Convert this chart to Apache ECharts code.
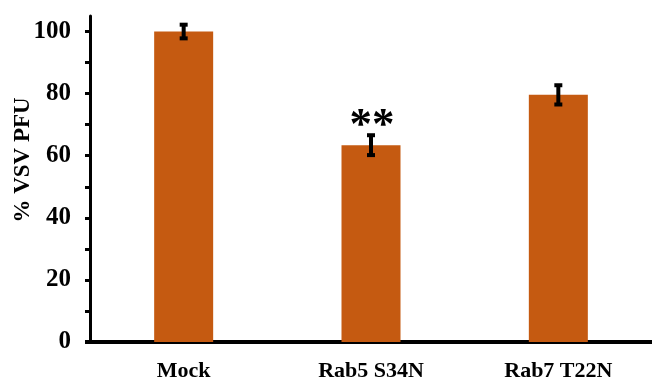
<!DOCTYPE html>
<html>
<head>
<meta charset="utf-8">
<script src="https://cdn.jsdelivr.net/npm/echarts@6/dist/echarts.min.js"></script>
<style>
  html, body { margin: 0; padding: 0; background: #fff; }
  #chart { width: 652px; height: 383px; }
</style>
</head>
<body>
<div id="chart"></div>
<script>
// Plaque assay: VSV PFU relative to mock-transfected cells
const categories = ['Mock', 'Rab5 S34N', 'Rab7 T22N'];
const pfuPercent = [100, 63.4, 79.6];
const pfuError = [2.2, 3.2, 3.1];
const significance = ['', '**', ''];
const yTickValues = [0, 10, 20, 30, 40, 50, 60, 70, 80, 90, 100];
const yLabelValues = [0, 20, 40, 60, 80, 100];

const FONT = '"Liberation Serif", "Times New Roman", serif';
const BAR_COLOR = '#C55A11';

const chart = echarts.init(document.getElementById('chart'), null, { renderer: 'canvas' });

const barData = pfuPercent.map((v, i) => {
  const item = { value: v };
  if (significance[i]) {
    item.label = {
      show: true,
      position: 'top',
      formatter: significance[i],
      distance: 0,
      fontFamily: FONT,
      fontWeight: 'bold',
      fontSize: 45,
      color: '#000',
      lineHeight: 45,
      offset: [1, 4]
    };
  }
  return item;
});

const errData = pfuPercent.map((v, i) => [i, v - pfuError[i], v + pfuError[i]]);

chart.setOption({
  animation: false,
  backgroundColor: '#fff',
  grid: { left: 90, top: 16, bottom: 41, width: 564 },
  xAxis: {
    type: 'category',
    data: categories,
    axisLine: { show: true, lineStyle: { color: '#000', width: 4 } },
    axisTick: { show: false },
    axisLabel: {
      color: '#000', fontFamily: FONT, fontWeight: 'bold', fontSize: 22, margin: 18
    }
  },
  yAxis: {
    type: 'value',
    min: 0,
    max: 105,
    interval: 10,
    splitLine: { show: false },
    axisLine: { show: true, lineStyle: { color: '#000', width: 3 } },
    axisTick: {
      show: true, inside: false, length: 5,
      customValues: yTickValues,
      lineStyle: { color: '#000', width: 3 }
    },
    axisLabel: {
      customValues: yLabelValues,
      color: '#000', fontFamily: FONT, fontWeight: 'bold', fontSize: 25, margin: 19
    }
  },
  graphic: [
    {
      type: 'text',
      x: 23,
      y: 160,
      rotation: Math.PI / 2,
      style: {
        text: '% VSV PFU',
        fontFamily: FONT,
        fontWeight: 'bold',
        fontSize: 23,
        fill: '#000',
        align: 'center',
        verticalAlign: 'middle'
      }
    },
    {
      // short stub of the baseline left of the value axis
      type: 'line',
      shape: { x1: 85, y1: 342, x2: 91, y2: 342 },
      style: { stroke: '#000', lineWidth: 4 },
      z: 10
    }
  ],
  series: [
    {
      type: 'bar',
      data: barData,
      barWidth: 59,
      itemStyle: { color: BAR_COLOR },
      z: 2
    },
    {
      type: 'custom',
      data: errData,
      z: 5,
      renderItem: function (params, api) {
        const x = api.coord([api.value(0), 0])[0];
        const lo = api.coord([api.value(0), api.value(1)])[1];
        const hi = api.coord([api.value(0), api.value(2)])[1];
        const half = 4;
        const stem = { stroke: '#000', lineWidth: 4 };
        const cap = { stroke: '#000', lineWidth: 4 };
        return {
          type: 'group',
          children: [
            { type: 'line', shape: { x1: x, y1: lo, x2: x, y2: hi }, style: stem },
            { type: 'line', shape: { x1: x - half, y1: hi, x2: x + half, y2: hi }, style: cap },
            { type: 'line', shape: { x1: x - half, y1: lo, x2: x + half, y2: lo }, style: cap }
          ]
        };
      }
    }
  ]
});
</script>
</body>
</html>
